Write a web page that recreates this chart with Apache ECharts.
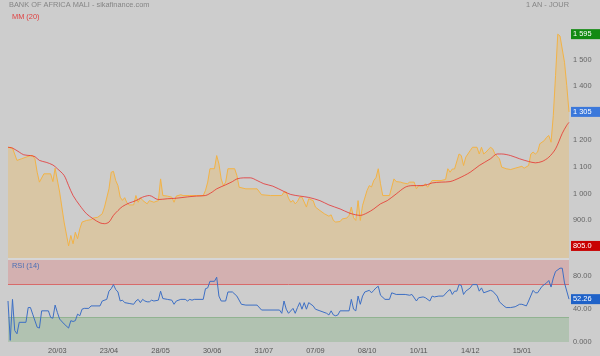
<!DOCTYPE html>
<html><head><meta charset="utf-8">
<script src="https://cdn.jsdelivr.net/npm/echarts@6/dist/echarts.min.js"></script>
<style>html,body{margin:0;padding:0;background:#cdcdcd;}#c{width:600px;height:356px;}</style>
</head><body><div id="c"></div>
<script>
const chartTitle = 'BANK OF AFRICA MALI - sikafinance.com';
const periodLabel = '1 AN - JOUR';
const maLabel = 'MM (20)';
const rsiLabel = 'RSI (14)';
const lastIndex = 250;
const tickIndex = [22, 45, 68, 91, 114, 137, 160, 183, 206, 229];
const tickLabels = ['20/03', '23/04', '28/05', '30/06', '31/07', '07/09', '08/10', '10/11', '14/12', '15/01'];
const priceTicks = [800, 900, 1000, 1100, 1200, 1300, 1400, 1500, 1600];
const rsiTicks = [0, 40, 80];

// [trading-day index, close]
const price = [[0,1173],[2,1170],[4,1124],[6,1130],[8,1136],[10,1142],[11,1142],[12,1130],[13,1080],[14,1043],[16,1074],[19,1074],[20,1045],[21,1095],[23,1006],[25,894],[27,805],[28,844],[29,813],[30,856],[31,832],[32,869],[33,894],[35,900],[37,903],[38,909],[40,912],[42,925],[43,950],[45,1018],[46,1080],[47,1083],[48,1049],[49,1030],[50,987],[51,975],[52,985],[53,966],[54,958],[56,958],[57,993],[58,968],[59,985],[60,975],[62,962],[63,974],[65,968],[67,974],[68,1055],[69,993],[71,991],[73,987],[74,968],[75,991],[77,996],[78,993],[81,993],[84,993],[87,993],[88,1012],[89,1043],[90,1093],[92,1093],[93,1142],[94,1111],[95,1055],[96,1030],[97,1043],[98,1093],[101,1093],[102,1068],[103,1024],[106,1018],[111,1018],[113,996],[117,993],[122,993],[123,1006],[124,1006],[125,983],[126,968],[127,975],[128,962],[129,971],[130,987],[131,987],[133,950],[134,981],[136,974],[137,950],[139,937],[141,925],[143,916],[144,921],[145,900],[146,894],[148,896],[149,906],[151,909],[152,919],[153,950],[154,910],[155,900],[156,974],[157,900],[158,956],[160,1012],[161,1030],[162,1025],[163,1049],[164,1060],[165,1093],[166,1037],[167,993],[170,993],[171,1024],[172,1055],[173,1045],[175,1043],[176,1040],[178,1037],[179,1043],[181,1043],[182,1018],[183,1030],[185,1028],[186,1037],[187,1024],[188,1037],[189,1049],[193,1049],[195,1053],[196,1093],[197,1080],[198,1092],[199,1092],[201,1148],[202,1142],[203,1105],[204,1136],[206,1161],[207,1173],[209,1173],[210,1148],[211,1173],[212,1148],[213,1155],[215,1173],[216,1167],[217,1148],[219,1130],[220,1099],[222,1093],[224,1090],[226,1095],[229,1102],[230,1095],[232,1105],[233,1148],[234,1155],[235,1148],[236,1155],[237,1186],[239,1198],[240,1210],[241,1217],[242,1192],[243,1291],[244,1440],[245,1595],[246,1588],[248,1490],[249,1403],[250,1305]];

const ma20 = [[0,1173],[2,1170],[5,1155],[7,1145],[10,1142],[12,1138],[14,1124],[17,1117],[20,1107],[22,1093],[25,1068],[27,1030],[29,993],[32,956],[35,925],[38,906],[41,891],[43,888],[45,894],[47,919],[49,937],[51,952],[54,965],[57,974],[60,987],[63,993],[67,978],[71,981],[75,983],[80,988],[84,991],[88,993],[91,1006],[93,1018],[97,1033],[100,1045],[102,1055],[105,1059],[108,1059],[111,1049],[114,1037],[118,1028],[123,1008],[126,997],[130,991],[134,986],[139,974],[143,958],[148,943],[152,928],[155,921],[157,919],[160,928],[163,943],[166,962],[169,974],[173,999],[177,1024],[180,1030],[184,1030],[187,1034],[189,1040],[193,1043],[197,1045],[201,1058],[206,1080],[210,1105],[215,1130],[218,1148],[220,1148],[224,1142],[228,1130],[232,1120],[235,1115],[238,1120],[241,1136],[244,1167],[247,1225],[249,1255],[250,1266]];

const rsi14 = [[0,50],[1,2],[2,52],[3,14],[4,10],[5,24],[8,24],[9,42],[10,42],[11,34],[13,18],[14,17],[15,38],[18,38],[19,30],[20,29],[21,45],[22,36],[23,28],[25,22],[27,17],[28,26],[29,25],[30,26],[31,34],[32,32],[33,40],[34,41],[36,41],[37,44],[41,44],[42,50],[44,52],[45,62],[46,65],[47,70],[48,64],[49,61],[50,50],[51,51],[52,48],[54,47],[56,46],[57,50],[58,52],[59,48],[60,52],[61,50],[62,49],[63,49],[64,51],[65,50],[67,51],[68,62],[69,53],[71,52],[73,51],[74,46],[75,50],[77,52],[79,52],[80,50],[81,52],[82,51],[83,52],[87,52],[88,65],[89,66],[90,74],[92,74],[93,79],[94,56],[95,50],[97,50],[98,61],[100,61],[102,56],[104,46],[106,45],[111,45],[113,39],[121,39],[122,35],[123,50],[124,40],[125,35],[127,41],[128,35],[129,42],[130,48],[131,40],[132,48],[133,40],[134,48],[136,44],[137,40],[139,38],[142,35],[143,33],[144,38],[145,33],[146,32],[147,33],[148,38],[152,38],[153,52],[154,40],[155,38],[156,56],[157,46],[158,56],[159,61],[161,63],[162,60],[163,63],[164,66],[165,68],[166,57],[168,52],[170,52],[171,60],[173,58],[177,58],[179,57],[180,58],[182,50],[183,54],[185,55],[186,54],[188,50],[189,56],[190,55],[192,56],[194,56],[196,62],[197,64],[198,58],[199,62],[200,62],[201,70],[202,69],[203,58],[204,62],[206,66],[207,70],[209,70],[210,62],[211,66],[212,60],[213,61],[215,63],[216,62],[218,56],[219,49],[221,44],[222,42],[224,42],[226,43],[228,46],[229,46],[231,44],[232,50],[234,63],[235,60],[236,60],[238,68],[240,72],[241,75],[242,67],[243,78],[244,86],[246,90],[247,90],[248,72],[250,52.26]];

const FONT = "'Liberation Sans', Arial, sans-serif";
const FS = 7.4;
function fmt(v) {
  let s = Number(v).toPrecision(4);
  if (Math.abs(v) >= 1000) { s = s.replace(/^(\d)(\d{3})/, '$1 $2'); }
  return s;
}
const prices = price.map(p => p[1]);
const maxPrice = Math.max(...prices);
const minPrice = Math.min(...prices);
const lastPrice = price[price.length - 1][1];
const lastRsi = rsi14[rsi14.length - 1][1];

function tag(v, bg) {
  return {
    yAxis: v,
    lineStyle: { width: 0, color: 'transparent' },
    label: { show: true, position: 'end', distance: 2, formatter: fmt(v), color: '#fff',
      backgroundColor: bg, padding: [2, 10, 1, 2], fontSize: FS, fontFamily: FONT }
  };
}

const chart = echarts.init(document.getElementById('c'), null, { renderer: 'canvas' });
const xCommon = {
  type: 'value', min: 0, max: lastIndex,
  axisLine: { show: false }, axisTick: { show: false }, splitLine: { show: false }
};
chart.setOption({
  animation: false,
  backgroundColor: '#cdcdcd',
  textStyle: { fontFamily: FONT },
  grid: [
    { left: 8, right: 31, top: 6, height: 252 },
    { left: 8, right: 31, top: 260, height: 82 }
  ],
  xAxis: [
    Object.assign({ gridIndex: 0, axisLabel: { show: false } }, xCommon),
    Object.assign({ gridIndex: 1, axisLabel: { show: true, customValues: tickIndex, color: '#555', fontSize: FS, margin: 5,
      formatter: v => { const k = tickIndex.indexOf(Math.round(v)); return k >= 0 ? tickLabels[k] : ''; } } }, xCommon)
  ],
  yAxis: [
    { gridIndex: 0, type: 'value', position: 'right', min: 760, max: 1700,
      axisLine: { show: false }, axisTick: { show: false }, splitLine: { show: false },
      axisLabel: { customValues: priceTicks, color: '#666', fontSize: FS, margin: 4, formatter: v => fmt(v) } },
    { gridIndex: 1, type: 'value', position: 'right', min: 0, max: 100,
      axisLine: { show: false }, axisTick: { show: false }, splitLine: { show: false },
      axisLabel: { customValues: rsiTicks, color: '#666', fontSize: FS, margin: 4, formatter: v => fmt(v) } }
  ],
  graphic: [
    { type: 'rect', left: 8, top: 258, z: -1, shape: { width: 561, height: 2 }, style: { fill: '#d6d6d6' } },
    { type: 'text', left: 9, top: 1, style: { text: chartTitle, fill: '#858585', font: FS + 'px ' + FONT } },
    { type: 'text', left: 12, top: 13, style: { text: maLabel, fill: '#e04040', font: FS + 'px ' + FONT } },
    { type: 'text', right: 31, top: 1, style: { text: periodLabel, fill: '#858585', font: FS + 'px ' + FONT } },
    { type: 'text', left: 12, top: 262, z: 10, style: { text: rsiLabel, fill: '#4a6fb5', font: FS + 'px ' + FONT } }
  ],
  series: [
    { type: 'line', xAxisIndex: 0, yAxisIndex: 0, data: price, symbol: 'none',
      lineStyle: { color: '#f2b347', width: 1 },
      areaStyle: { color: 'rgba(255,180,45,0.36)', origin: 'start' },
      markLine: { silent: true, symbol: ['none', 'none'], animation: false,
        data: [tag(maxPrice, '#128a12'), tag(lastPrice, '#3b78db'), tag(minPrice, '#c80000')] } },
    { type: 'line', xAxisIndex: 0, yAxisIndex: 0, data: ma20, symbol: 'none', smooth: 0.3,
      lineStyle: { color: 'rgba(232,30,30,0.7)', width: 1 } },
    { type: 'line', xAxisIndex: 1, yAxisIndex: 1, data: rsi14, symbol: 'none', z: 5,
      lineStyle: { color: '#3d6fc4', width: 1 },
      markArea: { silent: true, data: [
        [{ yAxis: 70, itemStyle: { color: 'rgba(235,60,60,0.2)' } }, { yAxis: 100 }],
        [{ yAxis: 0, itemStyle: { color: 'rgba(40,140,40,0.17)' } }, { yAxis: 30 }]
      ] },
      markLine: { silent: true, symbol: ['none', 'none'], animation: false,
        data: [
          { yAxis: 70, lineStyle: { color: '#d86a6a', width: 1, type: 'solid' }, label: { show: false } },
          { yAxis: 30, lineStyle: { color: 'rgba(60,140,60,0.35)', width: 1, type: 'solid' }, label: { show: false } },
          tag(lastRsi, '#1f62c8')
        ] } }
  ]
});
</script></body></html>
